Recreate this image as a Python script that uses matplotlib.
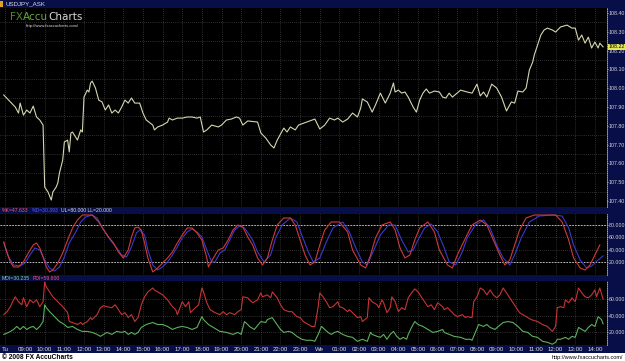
import numpy as np
import matplotlib.pyplot as plt
from matplotlib.patches import Rectangle
from matplotlib.text import Annotation

# time axis: 5-minute bars counted from Tuesday 08:00
hour_labels = ['Tu', '09:00', '10:00', '11:00', '12:00', '13:00', '14:00', '15:00',
               '16:00', '17:00', '18:00', '19:00', '20:00', '21:00', '22:00', '23:00',
               'We', '01:00', '02:00', '03:00', '04:00', '05:00', '06:00', '07:00',
               '08:00', '09:00', '10:00', '11:00', '12:00', '13:00', '14:00']

price_t = [-1, 3, 6, 8, 9, 11, 13, 15, 17, 19, 21, 23, 24, 26, 28, 29, 31, 32, 33, 35,
           36, 38, 39, 40, 41, 44, 46, 47, 48, 50, 51, 52, 53, 55, 57, 59, 61, 63, 65, 67,
           69, 71, 73, 75, 77, 79, 82, 84, 86, 90, 91, 93, 96, 99, 100, 102, 105, 108, 111, 114,
           117, 119, 121, 123, 126, 130, 132, 135, 138, 141, 143, 145, 148, 154, 156, 159, 162, 164, 166, 170,
           172, 174, 177, 179, 184, 189, 192, 195, 198, 201, 203, 206, 209, 212, 215, 217, 218, 221, 224, 226,
           229, 232, 235, 237, 238, 240, 242, 244, 246, 249, 251, 253, 255, 257, 259, 262, 265, 267, 269, 271,
           273, 278, 282, 285, 288, 290, 292, 294, 297, 300, 303, 306, 309, 311, 313, 316, 318, 320, 322, 323,
           325, 327, 329, 331, 334, 336, 339, 343, 346, 348, 350, 352, 354, 356, 358, 360, 362, 363, 365]
price = [107.964, 107.927, 107.900, 107.868, 107.921, 107.857, 107.884, 107.868, 107.905, 107.847,
         107.831, 107.804, 107.474, 107.448, 107.405, 107.448, 107.474, 107.496, 107.549, 107.618,
         107.714, 107.724, 107.661, 107.762, 107.767, 107.724, 107.778, 107.767, 107.953, 107.990,
         107.980, 108.028, 108.038, 108.001, 107.937, 107.927, 107.884, 107.911, 107.868, 107.884,
         107.868, 107.900, 107.937, 107.921, 107.948, 107.921, 107.921, 107.868, 107.831, 107.804,
         107.778, 107.794, 107.804, 107.820, 107.841, 107.831, 107.841, 107.841, 107.847, 107.847,
         107.841, 107.847, 107.767, 107.778, 107.804, 107.794, 107.804, 107.831, 107.836, 107.847,
         107.841, 107.804, 107.826, 107.820, 107.762, 107.735, 107.698, 107.682, 107.724, 107.788,
         107.767, 107.794, 107.778, 107.804, 107.820, 107.836, 107.783, 107.804, 107.841, 107.831,
         107.841, 107.820, 107.836, 107.868, 107.847, 107.895, 107.943, 107.927, 107.873, 107.911,
         107.974, 107.921, 107.974, 108.028, 107.980, 107.990, 107.974, 107.980, 107.953, 107.900,
         107.873, 107.937, 107.974, 107.996, 107.974, 107.985, 107.980, 107.953, 107.948, 107.974,
         107.953, 107.990, 107.980, 107.974, 108.022, 107.959, 107.980, 107.953, 108.022, 108.001,
         107.953, 107.879, 107.927, 107.921, 107.985, 107.980, 108.001, 108.097, 108.139, 108.177,
         108.230, 108.283, 108.310, 108.320, 108.310, 108.299, 108.326, 108.336, 108.320, 108.320,
         108.256, 108.283, 108.240, 108.272, 108.214, 108.246, 108.214, 108.240, 108.220]
last_price = 108.22

k_t = [-1, 1, 3, 5, 8, 11, 14, 17, 19, 21, 23, 25, 27, 29, 32, 35, 38, 41, 44, 47,
       50, 53, 57, 60, 63, 66, 69, 72, 75, 77, 79, 81, 83, 85, 87, 90, 93, 96, 99, 102,
       105, 108, 111, 114, 117, 120, 123, 124, 127, 130, 133, 136, 139, 142, 145, 148,
       151, 154, 157, 160, 163, 166, 170, 174, 177, 180, 183, 186, 189, 192, 195, 199, 204, 209, 212, 217,
       220, 223, 226, 230, 235, 238, 241, 244, 247, 250, 253, 258, 262, 265, 270, 273, 276, 281, 285, 290,
       294, 298, 302, 305, 308, 311, 314, 318, 323, 329, 336, 340, 344, 347, 351, 354, 357, 360, 363]
stoch_k = [52.4, 35.0, 20.8, 12.9, 12.9, 20.8, 35.0, 47.6, 50.8, 42.9, 28.6, 12.9, 5.0, 8.1, 19.2, 35.0, 55.5, 74.5, 87.1, 95.0,
           95.0, 95.0, 84.0, 71.3, 60.3, 50.8, 36.6, 27.1, 39.7, 60.3, 74.5, 76.0, 71.3, 50.8, 27.1, 5.0, 11.3, 19.2, 27.1, 36.6,
           50.8, 63.4, 74.5, 74.5, 66.6, 55.5, 27.1, 12.9, 27.1, 39.7, 42.9, 55.5, 71.3, 79.2, 76.0, 60.3,
           47.6, 27.1, 16.0, 27.1, 55.5, 79.2, 90.3, 90.3, 79.2, 55.5, 31.8, 16.0, 20.8, 47.6, 71.3, 84.0, 84.0, 68.2, 39.7, 16.0,
           11.3, 31.8, 58.7, 79.2, 84.0, 71.3, 42.9, 27.1, 31.8, 55.5, 74.5, 84.0, 68.2, 39.7, 16.0, 11.3, 31.8, 58.7, 79.2, 87.1,
           79.2, 55.5, 31.8, 16.0, 23.9, 47.6, 71.3, 90.3, 95.0, 95.0, 95.0, 84.0, 55.5, 27.1, 11.3, 8.1, 16.0, 31.8, 47.6]

d_t = [-1, 2, 5, 9, 12, 15, 18, 21, 24, 27, 30, 33, 36, 39, 43, 46, 49, 53, 56, 59,
       62, 65, 68, 71, 74, 77, 80, 82, 85, 87, 90, 93, 96, 99, 102, 105, 108, 111, 114, 117,
       120, 123, 126, 128, 131, 134, 137, 140, 143, 146, 149,
       151, 154, 158, 162, 165, 169, 174, 178, 181, 185, 188, 192, 196, 200, 206, 210, 214, 218, 221, 225,
       229, 234, 238, 242, 246, 249, 252, 256, 260, 264, 268, 271, 275, 279, 282, 287, 292, 296, 300, 304,
       308, 311, 315, 320, 326, 334, 340, 344, 347, 351, 355, 358, 362, 365]
stoch_d = [50.8, 28.6, 16.0, 14.4, 19.2, 31.8, 42.9, 39.7, 23.9, 11.3, 6.5, 12.9, 28.6, 50.8, 68.2, 84.0, 91.9, 95.0, 90.3, 76.0,
           63.4, 52.4, 42.9, 31.8, 28.6, 44.5, 66.6, 71.3, 63.4, 39.7, 16.0, 8.1, 12.9, 20.8, 31.8, 44.5, 58.7, 68.2, 72.9, 68.2,
           60.3, 39.7, 20.8, 20.8, 35.0, 39.7, 55.5, 71.3, 77.6, 74.5, 63.4,
           55.5, 36.6, 20.8, 31.8, 58.7, 79.2, 90.3, 84.0, 63.4, 36.6, 20.8, 27.1, 52.4, 74.5, 84.0, 68.2, 42.9, 20.8, 16.0, 39.7,
           63.4, 79.2, 79.2, 55.5, 36.6, 39.7, 55.5, 74.5, 80.8, 68.2, 42.9, 20.8, 16.0, 36.6, 58.7, 79.2, 87.1, 74.5, 47.6, 27.1,
           16.0, 31.8, 58.7, 84.0, 93.4, 95.0, 93.4, 74.5, 47.6, 23.9, 11.3, 14.4, 23.9, 30.4]

pdi_t = [-1, 1, 3, 5, 6, 8, 10, 11, 13, 15, 17, 19, 21, 23, 24, 25, 27, 29, 32, 35,
         38, 39, 41, 44, 46, 47, 50, 52, 53, 56, 58, 60, 62, 65, 67, 69, 71, 73, 75, 77,
         79, 81, 83, 85, 87, 90, 91, 93, 96, 99, 102, 104, 105, 108, 110, 112, 113, 116, 118, 120,
         121, 123, 125, 128, 131, 133, 135, 137, 140, 142, 144, 145, 148, 149, 151, 154, 156, 157, 160, 162,
         163, 166, 168, 170, 173, 175, 178, 180, 182, 185, 187, 189, 191, 192, 194, 196, 198, 200, 203, 204,
         206, 209, 210, 212, 215, 217, 218, 221, 222, 224, 227, 228, 230, 231, 233, 235, 236, 238, 240, 242,
         244, 246, 248, 250, 252, 254, 256, 258, 260, 262, 264, 267, 268, 270, 273, 274, 276, 279, 281, 282,
         285, 286, 288, 290, 292, 294, 296, 298, 300, 302, 304, 306, 308, 310, 312, 314, 316, 318, 321, 325,
         328, 331, 334, 336, 337, 339, 341, 342, 344, 346, 348, 350, 352, 354, 356, 358, 360, 361, 363, 365]
pdi = [41.2, 44.7, 50.6, 58.8, 62.4, 56.5, 52.9, 61.2, 50.6, 58.8, 55.3, 58.8, 50.6, 56.5, 80.0, 74.1, 68.2, 62.4, 56.5, 50.6,
       43.5, 32.9, 31.8, 29.4, 31.8, 29.4, 32.9, 37.6, 35.3, 41.2, 49.4, 51.8, 50.6, 49.4, 52.9, 47.1, 41.2, 43.5, 37.6, 41.2,
       32.9, 37.6, 52.9, 62.4, 68.2, 72.9, 70.6, 68.2, 64.7, 58.8, 50.6, 47.1, 41.2, 56.5, 50.6, 56.5, 43.5, 49.4, 52.9, 72.9,
       68.2, 55.3, 47.1, 43.5, 41.2, 44.7, 41.2, 43.5, 41.2, 44.7, 47.1, 62.4, 61.2, 58.8, 55.3, 58.8, 67.1, 62.4, 64.7, 61.2,
       68.2, 61.2, 52.9, 47.1, 44.7, 44.7, 38.8, 37.6, 32.9, 29.4, 27.1, 27.1, 50.6, 67.1, 62.4, 56.5, 49.4, 50.6, 56.5, 50.6,
       49.4, 44.7, 47.1, 43.5, 37.6, 38.8, 32.9, 37.6, 61.2, 56.5, 52.9, 49.4, 58.8, 55.3, 43.5, 49.4, 62.4, 56.5, 44.7, 49.4,
       47.1, 61.2, 67.1, 71.8, 68.2, 62.4, 56.5, 50.6, 52.9, 47.1, 55.3, 50.6, 47.1, 49.4, 43.5, 41.2, 38.8, 41.2, 37.6, 38.8,
       37.6, 56.5, 62.4, 72.9, 70.6, 64.7, 70.6, 64.7, 61.2, 64.7, 72.9, 67.1, 61.2, 55.3, 49.4, 43.5, 41.2, 38.8, 35.3, 32.9,
       29.4, 27.1, 21.2, 27.1, 49.4, 50.6, 49.4, 58.8, 55.3, 61.2, 56.5, 72.9, 67.1, 62.4, 61.2, 64.7, 70.6, 62.4, 72.9, 59.6]

mdi_t = [-1, 2, 5, 7, 9, 11, 13, 15, 17, 19, 21, 23, 24, 25, 27, 30, 33, 36, 38, 41,
         44, 47, 50, 53, 56, 58, 60, 62, 65, 68, 71, 73, 75, 77, 79, 81, 83, 86, 90, 93,
         96, 99, 102, 105, 108, 111, 114, 117, 120, 121, 124, 127, 131, 135, 139, 142, 144, 146, 148, 149,
         152, 156, 159, 160, 163, 165, 168, 170, 173, 175, 178, 181, 184, 187, 189, 191, 193, 195, 197, 199,
         201, 203, 206, 209, 212, 215, 218, 221, 223, 224, 227, 229, 231, 233, 235, 237, 239, 241, 243, 245,
         246, 248, 250, 252, 255, 258, 261, 264, 267, 268, 271, 274, 278, 281, 284, 285, 287, 289, 292, 294,
         296, 299, 301, 304, 307, 310, 313, 316, 319, 322, 325, 328, 331, 334, 336, 337, 339, 342, 344, 346,
         348, 350, 352, 354, 356, 358, 360, 362, 364, 365]
mdi = [17.6, 20.0, 23.5, 27.1, 23.5, 27.1, 23.5, 25.9, 27.1, 23.5, 27.1, 32.9, 52.9, 49.4, 44.7, 38.8, 32.9, 29.4, 25.9, 27.1,
       23.5, 21.2, 21.2, 20.0, 17.6, 15.3, 17.6, 20.0, 17.6, 21.2, 20.0, 21.2, 17.6, 20.0, 17.6, 20.0, 25.9, 29.4, 31.8, 29.4,
       29.4, 27.1, 23.5, 25.9, 27.1, 25.9, 23.5, 25.9, 38.8, 35.3, 29.4, 25.9, 21.2, 20.0, 17.6, 20.0, 17.6, 32.9, 29.4, 27.1,
       23.5, 32.9, 31.8, 35.3, 37.6, 31.8, 23.5, 20.0, 21.2, 20.0, 15.3, 11.8, 10.6, 10.6, 9.4, 17.6, 27.1, 23.5, 20.0, 17.6,
       20.0, 21.2, 17.6, 15.3, 14.1, 9.4, 11.8, 9.4, 20.0, 17.6, 15.3, 14.1, 17.6, 11.8, 17.6, 21.2, 15.3, 11.8, 14.1, 11.8,
       17.6, 25.9, 32.9, 29.4, 27.1, 23.5, 20.0, 21.2, 23.5, 20.0, 17.6, 15.3, 14.1, 11.8, 11.8, 10.6, 20.0, 29.4, 27.1, 29.4,
       25.9, 23.5, 27.1, 31.8, 32.9, 31.8, 27.1, 21.2, 20.0, 15.3, 14.1, 9.4, 8.2, 5.9, 8.2, 11.8, 11.8, 14.1, 11.8, 15.3,
       14.1, 25.9, 23.5, 21.2, 25.9, 29.4, 27.1, 38.8, 35.3, 30.2]

W, H = 625, 361
navy = '#070e48'
grid_c = '#5a5a5a'
plt.rcParams['font.family'] = ['Liberation Sans', 'DejaVu Sans']


def box(x0, y0, x1, y1):
    # pixel rectangle (top-left origin) -> figure fraction
    return [x0 / W, 1 - y1 / H, (x1 - x0) / W, (y1 - y0) / H]


def rect(x0, y0, x1, y1, color):
    l, b, w, h = box(x0, y0, x1, y1)
    fig.patches.append(Rectangle((l, b), w, h, transform=fig.transFigure,
                                 facecolor=color, edgecolor='none', zorder=-5))


def ptext(x, y, s, **kw):
    return fig.text(x / W, 1 - y / H, s, **kw)


def chain(x, y, parts, size, gap=2.0, **kw):
    # texts written one after the other on a line
    prev = ptext(x, y, parts[0][0], color=parts[0][1], fontsize=size, va='center', **kw)
    for s, c in parts[1:]:
        prev = fig.add_artist(Annotation(s, xy=(1, 0.5), xycoords=prev, xytext=(gap, 0),
                                         textcoords='offset points', color=c, fontsize=size,
                                         va='center', ha='left', **kw))
    return prev


fig = plt.figure(figsize=(6.25, 3.61), dpi=100, facecolor='black')

for r in [(0, 0, 625, 8), (0, 207, 607, 214), (0, 275, 607, 281), (0, 345, 607, 353), (607, 0, 625, 353)]:
    rect(*r, navy)
rect(0, 353, 625, 361, 'white')

hour_ticks = np.arange(len(hour_labels)) * 12
xlim = (-3.3, 367.4)


def style(ax, yticks, fmt, ylim):
    ax.set_facecolor('black')
    ax.set_xlim(*xlim)
    ax.set_ylim(*ylim)
    ax.set_xticks(hour_ticks)
    ax.set_xticklabels([])
    ax.tick_params(axis='x', length=0)
    ax.yaxis.tick_right()
    ax.set_yticks(yticks)
    ax.set_yticklabels([fmt % v for v in yticks])
    ax.tick_params(axis='y', length=0.8, width=0.5, pad=0.3, labelsize=3.8,
                   colors='#d8d8d8', direction='out')
    for s in ['top', 'bottom', 'left']:
        ax.spines[s].set_visible(False)
    ax.spines['right'].set_color('#bbbbbb')
    ax.spines['right'].set_linewidth(0.6)
    ax.spines['right'].set_linestyle((0, (1, 1.5)))
    ax.grid(axis='x', color=grid_c, lw=0.5, ls=(0, (1, 2)))


# price panel
ax1 = fig.add_axes(box(0, 8, 607, 207))
p_ticks = np.round(np.arange(107.40, 108.41, 0.10), 2)
style(ax1, p_ticks, '%.2f', (107.368, 108.427))
ax1.set_yticks(np.round(np.arange(107.45, 108.40, 0.10), 2), minor=True)
ax1.tick_params(axis='y', which='minor', length=0)
ax1.grid(axis='y', which='minor', color=grid_c, lw=0.5, ls=(0, (1, 2)))
ax1.plot(price_t, price, color='#d6d6b0', lw=0.8)
ax1.text(1.003, last_price, '%.2f' % last_price, transform=ax1.get_yaxis_transform(),
         fontsize=3.8, color='black', va='center', ha='left',
         bbox=dict(boxstyle='square,pad=0.15', fc='#e6e650', ec='none'))

# stochastic panel
ax2 = fig.add_axes(box(0, 214, 607, 275))
style(ax2, [20, 40, 60, 80], '%.3f', (0.2, 96.6))
ax2.grid(axis='y', color=grid_c, lw=0.5, ls=(0, (1, 2)))
ax2.axhline(80, color='#d0d0d0', lw=0.6, ls=(0, (2, 1.5)))
ax2.axhline(20, color='#d0d0d0', lw=0.6, ls=(0, (2, 1.5)))
ax2.plot(d_t, stoch_d, color='#3a3ad0', lw=0.8)
ax2.plot(k_t, stoch_k, color='#d03a3a', lw=0.8)

# DMI panel
ax3 = fig.add_axes(box(0, 281, 607, 345))
style(ax3, [20, 40, 60], '%.3f', (5.0, 81.2))
ax3.grid(axis='y', color=grid_c, lw=0.5, ls=(0, (1, 2)))
ax3.plot(mdi_t, mdi, color='#5cb05c', lw=0.8)
ax3.plot(pdi_t, pdi, color='#c83434', lw=0.8)
ax3.set_xticklabels(hour_labels)
ax3.tick_params(axis='x', labelsize=4.4, colors='#e0e0e0', pad=1.6)

# headers
rect(0, 1, 3, 7, '#e0a020')
ptext(5, 4, 'USDJPY_ASK', fontsize=4.4, color='#e0e0e0', va='center')
chain(2, 210.5, [('%K=47.633', '#ff5a5a'), ('%D=30.393', '#5a5aff'),
                 ('UL=80.000 LL=20.000', '#e0e0e0')], 3.7)
chain(2, 278, [('MDI=30.235', '#80e080'), ('PDI=59.600', '#ff5a5a')], 3.7)

# watermark logo
rect(7, 9, 87, 30, '#3a3a3a')
chain(10, 17.5, [('FX', '#4f8a2c'), ('Accu', '#6aa83c'), ('Charts', '#d8d8d8')],
      7.5, gap=0, family=['DejaVu Sans'])
ptext(26, 26.5, 'http://www.fxaccucharts.com/', fontsize=3.0, color='#e0e0e0', va='center')

# footer
ptext(2, 357.5, '\u00a9 2008 FX AccuCharts', fontsize=4.8, color='black', weight='bold', va='center')
ptext(623, 357.5, 'http://www.fxaccucharts.com/', fontsize=4.0, color='black', ha='right', va='center')

fig.savefig('out.png', dpi=100, facecolor='black')
